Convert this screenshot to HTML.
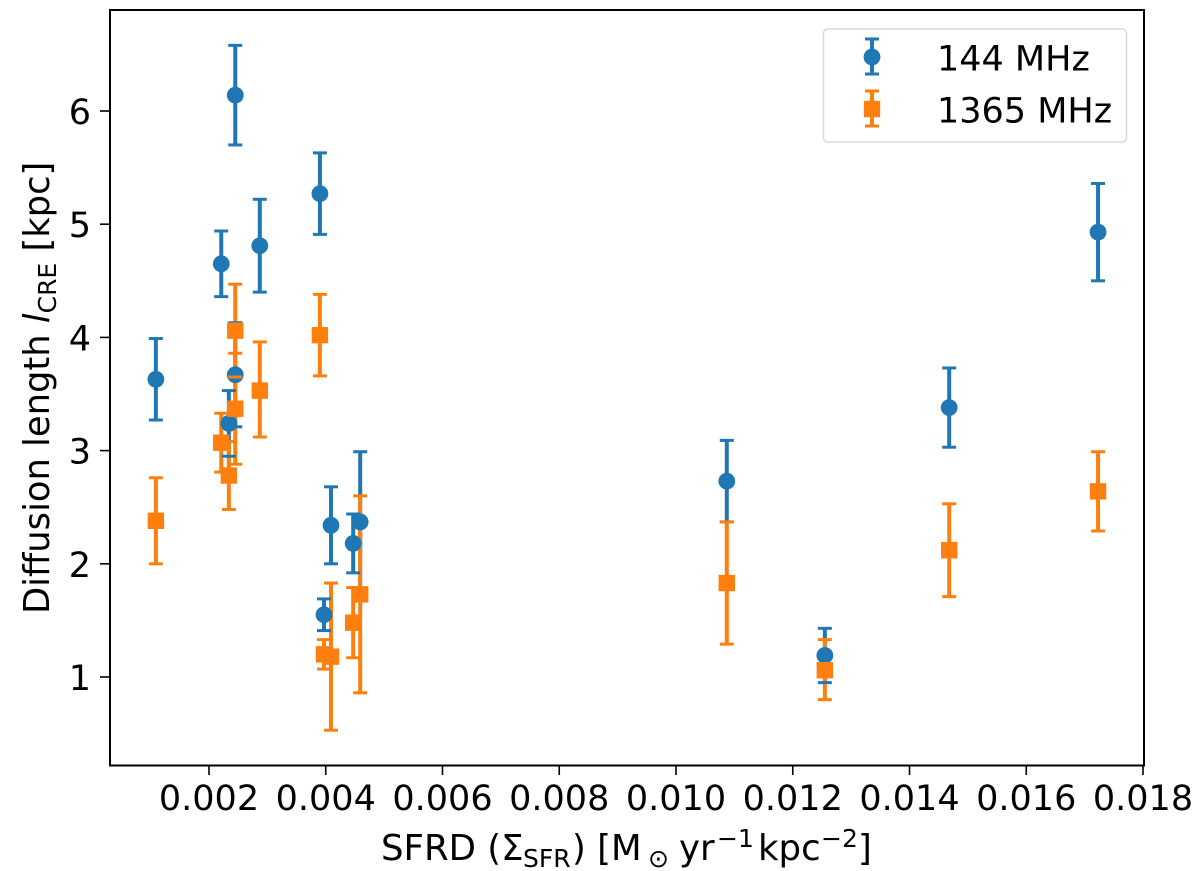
<!DOCTYPE html>
<html>
<head>
<meta charset="utf-8">
<title>Diffusion length vs SFRD</title>
<style>
html,body{margin:0;padding:0;background:#fff;}
svg{display:block;}
text{font-family:"DejaVu Sans",sans-serif;fill:#000;}
</style>
</head>
<body>
<svg id="chart" xmlns="http://www.w3.org/2000/svg" width="1200" height="871" viewBox="0 0 1200 871">
  <rect x="0" y="0" width="1200" height="871" fill="#fff"/>
  <g id="marks"></g>
  <rect x="110" y="10" width="1034" height="755.5" fill="none" stroke="#000" stroke-width="2"/>
  <g id="ticks"></g>
  <text x="381" y="860" font-size="35.5">SFRD (Σ<tspan font-size="25" dy="7" x="523">SFR</tspan><tspan dy="-7" x="572">) [M</tspan><tspan font-size="25" dy="7" x="648">⊙</tspan><tspan dy="-7" x="679">yr</tspan><tspan font-size="25" dy="-13" x="717">−1</tspan><tspan dy="13" x="758">kpc</tspan><tspan font-size="25" dy="-13" x="821">−2</tspan><tspan dy="13" x="858">]</tspan></text>
  <text transform="translate(49,614) rotate(-90)" font-size="35.3">Diffusion length <tspan font-style="italic">l</tspan><tspan font-size="25" dy="7">CRE</tspan><tspan dy="-7"> [kpc]</tspan></text>
  <g>
    <rect x="823.5" y="29" width="303" height="113" rx="4" fill="#fff" fill-opacity="0.8" stroke="#d9d9d9" stroke-width="1.5"/>
    <g id="legend-keys"></g>
    <text x="937" y="70.5" font-size="35">144 MHz</text>
    <text x="937" y="122.5" font-size="35">1365 MHz</text>
  </g>
</svg>
<script>
const sfrd = [0.00109,0.00221,0.00234,0.00245,0.00245,0.00287,0.0039,0.00397,0.00409,0.00447,0.00459,0.01087,0.01255,0.01468,0.01723];
const lofar = [3.63,4.65,3.24,6.14,3.67,4.81,5.27,1.55,2.34,2.18,2.37,2.73,1.19,3.38,4.93];
const lofarLow = [3.27,4.36,2.95,5.70,3.21,4.40,4.91,1.41,2.00,1.92,1.75,2.37,0.95,3.03,4.50];
const lofarHigh = [3.99,4.94,3.53,6.58,4.13,5.22,5.63,1.69,2.68,2.44,2.99,3.09,1.43,3.73,5.36];
const lband = [2.38,3.07,2.78,4.06,3.37,3.53,4.02,1.20,1.18,1.48,1.73,1.83,1.06,2.12,2.64];
const lbandLow = [2.00,2.81,2.48,3.65,2.88,3.12,3.66,1.07,0.53,1.17,0.86,1.29,0.80,1.71,2.29];
const lbandHigh = [2.76,3.33,3.08,4.47,3.86,3.96,4.38,1.33,1.83,1.79,2.60,2.37,1.33,2.53,2.99];
const xTickValues = [0.002,0.004,0.006,0.008,0.010,0.012,0.014,0.016,0.018];
const xTickLabels = ["0.002","0.004","0.006","0.008","0.010","0.012","0.014","0.016","0.018"];
const yTickValues = [1,2,3,4,5,6];
const yTickLabels = ["1","2","3","4","5","6"];

const NS = "http://www.w3.org/2000/svg";
const BLUE = "#1f77b4";
const ORANGE = "#ff7f0e";
function xScale(v){ return 209 + (v - 0.002) * 58375; }
function yScale(v){ return 677 - (v - 1) * 113.2; }
function make(tag, attrs, parent){
  const el = document.createElementNS(NS, tag);
  for (const k in attrs) el.setAttribute(k, attrs[k]);
  parent.appendChild(el);
  return el;
}
function drawStem(parent, x, yTop, yBot, color){
  const stem = make("line", {x1:x, x2:x, y1:yTop, y2:yBot, stroke:color, "stroke-width":4}, parent);
  
  
}
function drawCaps(parent, x, yTop, yBot, color){
  const capTop = make("line", {x1:x-7, x2:x+7, y1:yTop, y2:yTop, stroke:color, "stroke-width":3}, parent);
  
  
  const capBot = make("line", {x1:x-7, x2:x+7, y1:yBot, y2:yBot, stroke:color, "stroke-width":3}, parent);
  
  
}
function drawCircle(parent, x, y){
  const c = make("circle", {cx:x, cy:y, r:8.4, fill:BLUE}, parent);
  
  
}
function drawSquare(parent, x, y){
  const r = make("rect", {x:x-8.2, y:y-8.2, width:16.4, height:16.4, fill:ORANGE}, parent);
  
  
}
const marks = document.getElementById("marks");
sfrd.forEach(function(s, i){
  drawStem(marks, xScale(s), yScale(lofarHigh[i]), yScale(lofarLow[i]), BLUE);
});
sfrd.forEach(function(s, i){
  drawStem(marks, xScale(s), yScale(lbandHigh[i]), yScale(lbandLow[i]), ORANGE);
});
sfrd.forEach(function(s, i){
  drawCircle(marks, xScale(s), yScale(lofar[i]));
  drawCaps(marks, xScale(s), yScale(lofarHigh[i]), yScale(lofarLow[i]), BLUE);
});
sfrd.forEach(function(s, i){
  drawSquare(marks, xScale(s), yScale(lband[i]));
  drawCaps(marks, xScale(s), yScale(lbandHigh[i]), yScale(lbandLow[i]), ORANGE);
});
const ticks = document.getElementById("ticks");
xTickValues.forEach(function(v, i){
  const x = xScale(v);
  const t = make("line", {x1:x, x2:x, y1:765, y2:775, stroke:"#000", "stroke-width":1.6}, ticks);
  
  
  const l = make("text", {x:x, y:810, "font-size":35, "text-anchor":"middle"}, ticks);
  
  
  l.textContent = xTickLabels[i];
});
yTickValues.forEach(function(v, i){
  const y = yScale(v);
  const t = make("line", {x1:100, x2:110, y1:y, y2:y, stroke:"#000", "stroke-width":1.6}, ticks);
  
  
  const l = make("text", {x:91, y:y+13, "font-size":35, "text-anchor":"end"}, ticks);
  
  
  l.textContent = yTickLabels[i];
});
const keys = document.getElementById("legend-keys");
drawStem(keys, 872, 39, 74, BLUE);
drawCircle(keys, 872, 57);
drawCaps(keys, 872, 39, 74, BLUE);
drawStem(keys, 872, 91, 126, ORANGE);
drawSquare(keys, 872, 109);
drawCaps(keys, 872, 91, 126, ORANGE);
</script>
</body>
</html>
